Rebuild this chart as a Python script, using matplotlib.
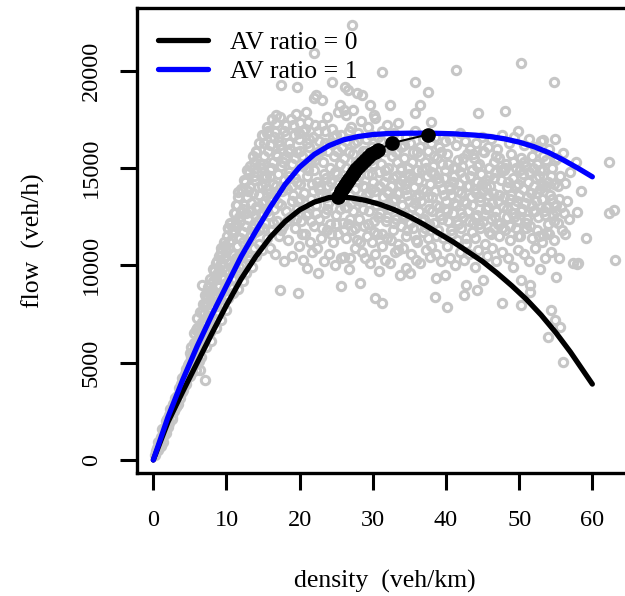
import matplotlib
matplotlib.use("Agg")
import matplotlib.pyplot as plt

plt.rcParams['font.family'] = ['Liberation Serif', 'DejaVu Serif']

# ---- data ----
# black curve: AV ratio = 0
k_hv = [0, 2, 4, 6, 8, 10, 12, 14, 16, 18, 20, 22, 24, 25.2, 27, 29, 31, 33, 35,
        37, 39, 41, 43, 45, 47, 49, 51, 53, 55, 57, 59, 60]
q_hv = [0, 1950, 3500, 5000, 6500, 7950, 9300, 10450, 11450, 12250, 12850, 13250,
        13480, 13530, 13470, 13340, 13130, 12850, 12500, 12100, 11650, 11200, 10700,
        10200, 9600, 8950, 8250, 7450, 6550, 5550, 4450, 3900]
# blue curve: AV ratio = 1
k_av = [0, 2, 4, 6, 8, 10, 12, 14, 16, 18, 20, 22, 24, 26, 28, 30, 32, 35, 38, 41,
        44, 46, 48, 50, 52, 54, 56, 58, 60]
q_av = [0, 2200, 4100, 5850, 7450, 8950, 10450, 11750, 13000, 14150, 15050, 15700,
        16150, 16450, 16620, 16720, 16770, 16790, 16790, 16760, 16690, 16620, 16500,
        16330, 16100, 15800, 15420, 15000, 14550]
# capacity points for increasing AV ratio
k_cap = [25.2, 25.45, 25.7, 25.95, 26.2, 26.5, 26.8, 27.1, 27.4, 27.75, 28.1, 28.5,
         28.9, 29.35, 29.8, 30.25, 30.75, 32.6, 37.5]
q_cap = [13500, 13650, 13800, 13960, 14120, 14290, 14450, 14620, 14780, 14940, 15100,
         15260, 15420, 15560, 15700, 15820, 15930, 16280, 16720]

# observed (density, flow) points
obs = [
 (0.2,250),(0.5,600),(0.7,500),(0.9,1000),(1.1,1200),(1.3,900),(1.4,1500),(1.6,1700),(1.8,1400),(1.9,2100),
 (2.1,2300),(2.2,1900),(2.4,2600),(2.5,2200),(2.7,2900),(2.8,2500),(3.0,3100),(3.1,2700),(3.3,3300),(3.4,2900),(3.5,3700),(3.7,3200),(3.8,3900),(3.9,3500),
 (4.0,4100),(4.1,3600),(4.3,4400),(4.4,3900),(4.5,4700),(4.6,4200),(4.8,4500),(4.9,5000),(5.0,4300),(5.1,5300),(5.2,4700),(5.4,5500),(5.5,4900),(5.6,5200),(5.7,5800),(5.8,4600),(5.9,5400),(6.0,6000),
 (6.1,5600),(6.2,6300),(6.3,5100),(6.4,4600),(6.5,6700),(6.6,5900),(6.6,8990),(6.7,7100),(6.8,6200),(6.9,7500),(7.0,6600),(7.1,4100),(7.1,7900),(7.2,7000),(7.3,8300),(7.4,6400),(7.5,7400),(7.6,8600),(7.7,6900),(7.8,7800),(7.9,8200),(7.9,6100),
 (8.0,8800),(8.1,7300),(8.2,9200),(8.3,7900),(8.4,8500),(8.5,6800),(8.6,9500),(8.7,8100),(8.8,9000),(8.9,7500),(9.0,9800),(9.1,8600),(9.2,10100),(9.3,7200),(9.4,9300),(9.5,8000),(9.6,10400),(9.7,8800),(9.8,9700),(9.9,7700),(9.9,10800),
 (10.0,9100),(10.1,10300),(10.2,8300),(10.25,11900),(10.3,9600),(10.4,10900),(10.5,8900),(10.6,11300),(10.7,9900),(10.8,10600),(10.9,8600),(11.0,11700),(11.1,9300),(11.2,10100),(11.3,12200),(11.4,9700),(11.5,11000),(11.6,13780),(11.6,8800),(11.7,12500),(11.8,10500),(11.9,11400),(11.9,9500),
 (12.0,12800),(12.1,10000),(12.2,11700),(12.3,9200),(12.4,13100),(12.5,10800),(12.6,12000),(12.7,9600),(12.8,13500),(12.9,11200),(13.0,12400),(13.1,10300),(13.2,14000),(13.3,11500),(13.4,12800),(13.5,9900),(13.6,13700),(13.7,10900),(13.8,12100),(13.9,14400),(13.9,11700),
 (14.0,13000),(14.1,10500),(14.2,14800),(14.3,12300),(14.4,11100),(14.5,13600),(14.6,15200),(14.7,12700),(14.8,16700),(14.8,10800),(14.9,14100),(15.0,11900),(15.1,15600),(15.2,13300),(15.3,12200),(15.4,14600),(15.5,16780),(15.5,11400),(15.6,13900),(15.7,15900),(15.8,12600),(15.9,14900),(15.9,10900),
 (16.0,16200),(16.1,13400),(16.2,11800),(16.3,15300),(16.4,14200),(16.5,12900),(16.6,16870),(16.6,10600),(16.7,15700),(16.8,13700),(16.9,12300),(17.0,16400),(17.1,14700),(17.2,11500),(17.3,17640),(17.3,8730),(17.4,15100),(17.5,19260),(17.5,13100),(17.6,16000),(17.7,12000),(17.8,14400),(17.9,16900),(17.9,10200),
 (18.0,15500),(18.1,12800),(18.2,17200),(18.3,13900),(18.4,11300),(18.5,16300),(18.6,14800),(18.7,12500),(18.8,17500),(18.9,15200),(19.0,10500),(19.1,13600),(19.2,16700),(19.3,11900),(19.4,14500),(19.5,17800),(19.6,19180),(19.6,12900),(19.7,15800),(19.8,8560),(19.8,13300),(19.9,16500),(19.9,11000),
 (20.0,14200),(20.1,17300),(20.2,12300),(20.3,15600),(20.4,10300),(20.5,16900),(20.6,13700),(20.7,11600),(20.8,15000),(20.9,17900),(21.0,9850),(21.0,14600),(21.1,12700),(21.2,17380),(21.3,16100),(21.4,11200),(21.5,13400),(21.6,15400),(21.7,10700),(21.8,16600),(21.9,20890),(21.9,18580),(21.9,12000),
 (22.0,14900),(22.1,17210),(22.2,13100),(22.3,18750),(22.4,10900),(22.5,9590),(22.5,15800),(22.6,12400),(22.7,16400),(22.8,14100),(22.9,11400),(23.0,17210),(23.0,18490),(23.1,13600),(23.2,15300),(23.3,10200),(23.4,16900),(23.5,12700),(23.6,14500),(23.7,11800),(23.8,17600),(23.9,13200),(23.9,15900),
 (24.0,10600),(24.1,16300),(24.2,12100),(24.3,14300),(24.4,19430),(24.4,17000),(24.5,11200),(24.6,13800),(24.7,15600),(24.8,10000),(24.9,16700),(25.0,12600),(25.1,14700),(25.2,17900),(25.3,11600),(25.4,13300),(25.5,18240),(25.5,15200),(25.6,10400),(25.7,8940),(25.8,16100),(25.9,12200),(25.9,14000),
 (26.0,17980),(26.0,10450),(26.1,15500),(26.2,19180),(26.2,13000),(26.3,11400),(26.4,17720),(26.4,16400),(26.5,14400),(26.6,19010),(26.6,12100),(26.7,9800),(26.8,15800),(26.9,10400),(26.9,13600),(27.0,17100),(27.1,22350),(27.1,11800),(27.2,14900),(27.3,17980),(27.3,12800),(27.4,16300),(27.5,10900),(27.6,13900),(27.7,15300),(27.8,18840),(27.8,11300),(27.9,14400),
 (28.0,16800),(28.1,12400),(28.2,9110),(28.2,15000),(28.3,13300),(28.4,17400),(28.5,18750),(28.5,10700),(28.6,14100),(28.7,15900),(28.8,12000),(28.9,10400),(29.0,16500),(29.1,13600),(29.2,11500),(29.3,14700),(29.4,17100),(29.5,12800),(29.6,18240),(29.6,10100),(29.7,15400),(29.8,13900),(29.9,11200),(29.9,16100),
 (30.0,14300),(30.1,17720),(30.1,12300),(30.3,17550),(30.3,8300),(30.3,10600),(30.4,15700),(30.5,13100),(30.6,11600),(30.7,16600),(30.8,14800),(30.9,9700),(31.0,12700),(31.1,15200),(31.2,19950),(31.2,8050),(31.2,11000),(31.3,16900),(31.4,13500),(31.5,14300),(31.6,10300),(31.7,15900),(31.8,12300),(31.9,17200),(31.9,13800),
 (32.0,11400),(32.1,15000),(32.2,16300),(32.3,18240),(32.3,12900),(32.4,10100),(32.5,14100),(32.6,15600),(32.7,11800),(32.8,13300),(32.9,16800),(33.0,10700),(33.1,14600),(33.2,12400),(33.3,15300),(33.4,11100),(33.5,17300),(33.6,13700),(33.7,9500),(33.8,14900),(33.9,12000),(33.9,16100),
 (34.0,13100),(34.1,10900),(34.2,15500),(34.3,12600),(34.4,14200),(34.5,16600),(34.6,9850),(34.6,11500),(34.7,13600),(34.8,15000),(34.9,12200),(35.0,14600),(35.1,9600),(35.1,16300),(35.2,10600),(35.3,13000),(35.4,15300),(35.5,11900),(35.6,14000),(35.7,12500),(35.8,19440),(35.8,17810),(35.8,16900),(35.9,10300),(35.9,13500),
 (36.0,15800),(36.1,11200),(36.2,14400),(36.3,12800),(36.4,18240),(36.4,16100),(36.5,10100),(36.6,13300),(36.7,14900),(36.8,11700),(36.9,16500),(37.0,12400),(37.1,15300),(37.2,10800),(37.3,13800),(37.4,14600),(37.5,11400),(37.6,18920),(37.6,15900),(37.7,12900),(37.8,10450),(37.8,14200),(37.9,16300),
 (38.0,17380),(38.0,11000),(38.1,13500),(38.2,15100),(38.3,12200),(38.4,14700),(38.5,8360),(38.5,16600),(38.6,10600),(38.7,9330),(38.7,13100),(38.8,15500),(38.9,11800),(39.0,14300),(39.1,16100),(39.2,12600),(39.3,10200),(39.4,13900),(39.5,15200),(39.6,11400),(39.7,14500),(39.8,12900),(39.9,9500),(39.9,16400),
 (40.0,13300),(40.1,11000),(40.2,7840),(40.2,15700),(40.3,12300),(40.4,14100),(40.5,10400),(40.6,16500),(40.7,13600),(40.8,11600),(40.9,15000),(41.0,12700),(41.1,14600),(41.2,10000),(41.3,16200),(41.4,20020),(41.4,13100),(41.5,11300),(41.6,15400),(41.7,12100),(41.8,14200),(41.9,10700),(41.9,16800),
 (42.0,13700),(42.1,11900),(42.2,15100),(42.3,12500),(42.4,8480),(42.4,14500),(42.5,10300),(42.6,16400),(42.7,13200),(42.8,8990),(42.8,11100),(42.9,15700),(43.0,12800),(43.1,14100),(43.2,10600),(43.3,16000),(43.4,13500),(43.5,11700),(43.6,14900),(43.7,12200),(43.8,15500),(43.9,9900),(43.9,13900),
 (44.0,11400),(44.1,16300),(44.2,8730),(44.2,14300),(44.3,12600),(44.4,17810),(44.4,10800),(44.5,15200),(44.6,13300),(44.7,11900),(44.8,14700),(44.9,16600),(45.0,12300),(45.1,9250),(45.1,13800),(45.2,15800),(45.3,11100),(45.4,14400),(45.5,12900),(45.6,10500),(45.7,16100),(45.8,13600),(45.9,11700),(45.9,15000),
 (46.0,14100),(46.1,12400),(46.2,16500),(46.3,10900),(46.4,13700),(46.5,15300),(46.6,11900),(46.7,14800),(46.8,12800),(46.9,10200),(47.0,16000),(47.1,13300),(47.2,11500),(47.3,15500),(47.4,12200),(47.5,14400),(47.6,8050),(47.6,10700),(47.7,16700),(47.8,13000),(47.9,14900),(48.1,17930),(48.0,11800),
 (48.2,15200),(48.3,12500),(48.4,14000),(48.5,10400),(48.6,16300),(48.7,13400),(48.8,11300),(48.9,15700),(49.0,12700),(49.1,14500),(49.2,9900),(49.3,16600),(49.4,13100),(49.5,11900),(49.6,15000),(49.7,12300),(49.8,14200),(49.9,10800),(49.9,16900),
 (50.0,13600),(50.1,11500),(50.2,15500),(50.3,20410),(50.3,7960),(50.3,9250),(50.4,12900),(50.5,14700),(50.6,10600),(50.7,16200),(50.8,13200),(50.9,11900),(51.0,15100),(51.1,12400),(51.2,14300),(51.3,10200),(51.4,16500),(51.5,8990),(51.5,8650),(51.6,13700),(51.7,11400),(51.8,15600),(51.9,12800),
 (52.0,14100),(52.1,10900),(52.2,16100),(52.3,13300),(52.4,11800),(52.5,15200),(52.6,12500),(52.7,14600),(52.8,9800),(52.9,13900),(53.0,16400),(53.1,11200),(53.2,14900),(53.3,16440),(53.3,14130),(53.3,11560),(53.4,12800),(53.5,10400),(53.6,15400),(53.7,13000),(53.8,11700),(53.9,14300),
 (54.0,12100),(54.1,16000),(54.2,13600),(54.4,7700),(54.4,10700),(54.5,15000),(54.6,12600),(54.7,19440),(54.7,14200),(54.8,11300),(54.9,16475),(55.0,13100),(55.1,9420),(55.2,15500),(55.3,12200),(55.4,10400),(55.6,6850),(55.6,14600),(55.8,11800),
 (54.0,6330),(54.9,7190),(56.0,5050),(56.0,15760),(56.3,14220),(56.3,11610),(56.5,13300),(56.8,12400),(57.0,14800),(57.4,10100),(57.8,15330),(57.9,12760),(57.9,10070),(58.1,10100),(58.5,13800),(59.2,11400),(62.3,15330),(62.3,12700),(63.0,12840),(63.1,10300),
 # second pass over the denser parts of the cloud
 (0.4,450),(0.6,900),(1.0,700),(1.2,1600),(1.5,1300),(1.7,2000),(2.0,1700),(2.3,2600),(2.6,2100),(2.9,3200),(3.2,2800),(3.6,3500),(3.9,4200),(4.2,3800),(4.7,4900),(5.0,5500),(5.3,4500),(5.5,6000),(5.8,5100),(6.0,6800),(6.3,6200),(6.5,5300),(6.7,7600),(7.0,7100),(7.2,5800),(7.4,8100),(7.6,7200),(7.8,6600),
 (8.1,8400),(8.3,9700),(8.5,7600),(8.7,10200),(8.9,8900),(9.1,7900),(9.3,10700),(9.5,9400),(9.7,11000),(9.9,8500),(10.1,11500),(10.3,10100),(10.5,12100),(10.7,9300),(10.9,11800),(11.1,12700),(11.3,10400),(11.5,13100),(11.7,9900),(11.9,12300),(12.1,13800),(12.3,11200),(12.5,14300),(12.7,12700),(12.9,10500),(13.1,14800),(13.3,13200),(13.5,11900),(13.7,15300),(13.9,12600),
 (14.1,15800),(14.3,14000),(14.5,11800),(14.7,15000),(14.9,13200),(15.1,16300),(15.3,14500),(15.5,12800),(15.7,16900),(15.9,13700),(16.1,15000),(16.3,12200),(16.5,16600),(16.7,14100),(16.9,15600),(17.1,13200),(17.3,16200),(17.5,11800),(17.7,15300),(17.9,14000),(18.1,16700),(18.3,12300),(18.5,14600),(18.7,16000),(18.9,13300),(19.1,17200),(19.3,15500),(19.5,12400),(19.7,14300),(19.9,16800),(20.1,13400),(20.3,11600),(20.5,15100),(20.7,17000),(20.9,12600),(21.1,14900),(21.3,16500),(21.5,12300),(21.7,14200),(21.9,15600),
 (14.2,12900),(15.0,15200),(16.0,14600),(16.8,17300),(17.6,13800),(18.4,15800),(19.0,14100),(20.0,15900),(21.0,16300),(21.8,13800),
 (22.1,15400),(22.3,12700),(22.5,16900),(22.7,13900),(22.9,15900),(23.1,11900),(23.3,14700),(23.5,16300),(23.7,12900),(23.9,14100),(24.1,15000),(24.3,11600),(24.5,16600),(24.7,13500),(24.9,12100),(25.1,15900),(25.3,14200),(25.5,12900),(25.7,16700),(25.9,13300),(26.1,11800),(26.3,15000),(26.5,13000),(26.7,16900),(26.9,12400),(27.1,14500),(27.3,15700),(27.5,11900),(27.7,13400),(27.9,16400),(28.1,14600),(28.3,11200),(28.5,15400),(28.7,12900),(28.9,14000),(29.1,15900),(29.3,12100),(29.5,13700),(29.7,16700),(29.9,14700),(30.1,11700),(30.3,13800),(30.5,15600),(30.7,12500),(30.9,14100),(31.1,16400),(31.3,11600),(31.5,13100),(31.7,14900),(31.9,12500),(32.1,13700),(32.3,16000),(32.5,11300),(32.7,14500),(32.9,12200),(33.1,15800),(33.3,13700),(33.5,10800),(33.7,14200),(33.9,15000),(34.1,12500),(34.3,16200),(34.5,13900),(34.7,11800),(34.9,14700),
 (22.4,14300),(23.6,13500),(24.8,14800),(26.0,14200),(27.0,13200),(28.6,13300),(30.0,15200),(31.0,14000),(32.0,14600),(33.0,13400),(34.0,14400),(35.0,13300),
 (35.1,12200),(35.3,14500),(35.5,15800),(35.7,13200),(35.9,11300),(36.1,14900),(36.3,13600),(36.5,15600),(36.7,12300),(36.9,13900),(37.1,11900),(37.3,15000),(37.5,13500),(37.7,12100),(37.9,14800),(38.1,12800),(38.3,15600),(38.5,13800),(38.7,11500),(38.9,14500),(39.1,13000),(39.3,15800),(39.5,12400),(39.7,13600),(39.9,14900),(40.1,12800),(40.3,15200),(40.5,13900),(40.7,11800),(40.9,14300),(41.1,13200),(41.3,15000),(41.5,12300),(41.7,13800),(41.9,14800),(42.1,12700),(42.3,15500),(42.5,13300),(42.7,11400),(42.9,14100),(43.1,12300),(43.3,14600),(43.5,13100),(43.7,15700),(43.9,12500),(44.1,13700),(44.3,15100),(44.5,12100),(44.7,13500),(44.9,14200),(45.1,15900),(45.3,12600),(45.5,14000),(45.7,13000),(45.9,14600),(46.1,11600),(46.3,13200),(46.5,14500),(46.7,12500),(46.9,15600),(47.1,12100),(47.3,13600),(47.5,14900),(47.7,11900),(47.9,13500),(48.1,15000),(48.3,12900),(48.5,14300),(48.7,12000),(48.9,13600),(49.1,15300),(49.3,12500),(49.5,14100),(49.7,13300),(49.9,11500),(50.1,14900),(50.3,12800),(50.5,13900),(50.7,15300),(50.9,12200),(51.1,13500),(51.3,14800),(51.5,12000),(51.7,13100),(51.9,15000),(52.1,12800),(52.3,14500),(52.5,13700),(52.7,11500),(52.9,14900),(53.1,13400),(53.3,15600),(53.5,12600),(53.7,14100),(53.9,13000),(54.1,11600),(54.3,14600),(54.5,13400),(54.7,12300),(54.9,15400),(55.1,12800),(55.3,14100),(55.5,13400),(55.7,13000),(56.1,12700),
 # upper-left part of the cloud (above the AV curve at low density)
 (5.2,5800),(5.5,6500),(5.8,6700),(6.0,7300),(6.2,6600),(6.4,7600),(6.8,8000),(7.0,8500),(7.2,8000),(7.5,8900),(7.8,9300),(8.0,8700),(8.2,9800),(8.5,10100),(8.8,9600),(9.0,10500),(9.3,10900),(9.6,11200),(9.9,10700),(10.2,11900),(10.5,12200),(10.8,11700),(11.0,12700),(11.3,13100),(11.6,13500),(12.0,13900),(12.4,14400),(12.8,14900),(13.2,15100),(13.6,15600),(14.0,15900),(14.4,16300),(15.0,16700),(15.6,17100),(16.2,17500),(16.8,17700),(7.4,8400),(8.6,9300),(9.4,10100),(10.4,11200),(11.2,12000),(12.2,12900),(13.0,13800),(13.8,14600),
]
obs_k = [p[0] for p in obs]
obs_q = [p[1] for p in obs]

x_ticks = [0, 10, 20, 30, 40, 50, 60]
y_ticks = [0, 5000, 10000, 15000, 20000]
legend_labels = ["AV ratio = 0", "AV ratio = 1"]

# ---- figure ----
W, H = 625, 596
fig = plt.figure(figsize=(W / 100, H / 100), dpi=100)
ax = fig.add_axes([136.7 / W, 1 - 473 / H, (632 - 136.7) / W, (473 - 8) / H])

ax.plot(obs_k, obs_q, linestyle='none', marker='o', ms=6.0, mfc='none',
        mec='#c6c6c6', mew=2.2, zorder=1)
l0, = ax.plot(k_hv, q_hv, color='black', lw=3.8, solid_capstyle='round', zorder=3)
l1, = ax.plot(k_av, q_av, color='#0000ff', lw=3.8, solid_capstyle='round', zorder=4)
ax.plot(k_cap, q_cap, color='black', lw=1.5, marker='o', ms=9.5, zorder=5)

ax.set_xlim(-2.27, 65.42)
ax.set_ylim(-668, 23222)
ax.set_xticks(x_ticks)
ax.set_yticks(y_ticks)
ax.set_xticklabels([str(v) for v in x_ticks], fontsize=17.5)
ax.set_yticklabels([str(v) for v in y_ticks], fontsize=17.5, rotation=90, va='center')
ax.tick_params(axis='both', length=12, width=2.2, direction='out')
ax.tick_params(axis='x', pad=15)
ax.tick_params(axis='y', pad=13)
for s in ax.spines.values():
    s.set_linewidth(2.4)

ax.set_xlabel("density  (veh/km)", fontsize=18.5, labelpad=28)
ax.set_ylabel("flow  (veh/h)", fontsize=18.5, labelpad=26)

ax.legend([l0, l1], legend_labels, loc='upper left', bbox_to_anchor=(0.043, 0.951),
          frameon=False, fontsize=18.5, handlelength=1.95, handletextpad=0.85,
          labelspacing=0.25, borderpad=0, borderaxespad=0)

fig.savefig("out.png", dpi=100)
